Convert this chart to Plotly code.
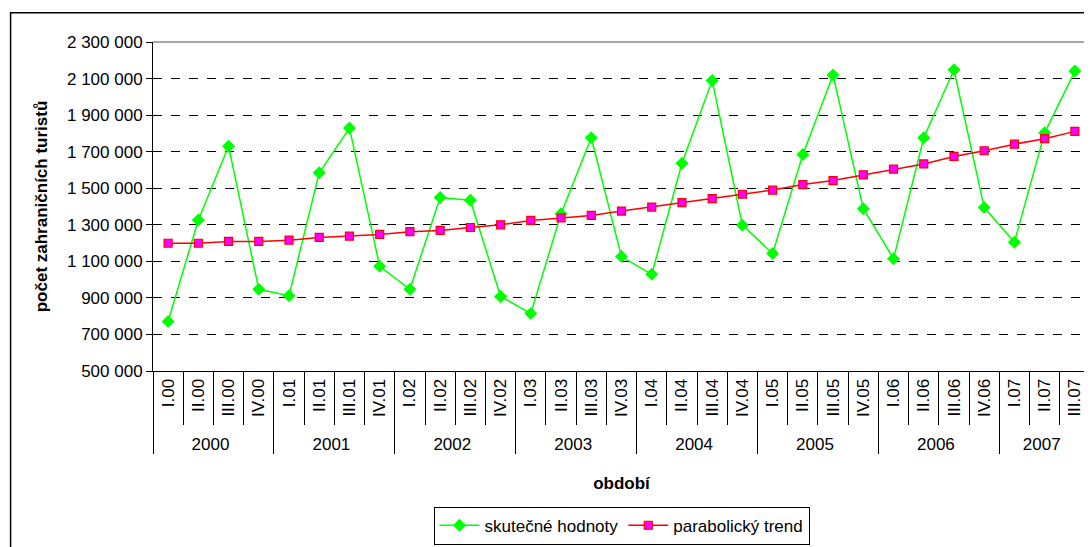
import plotly.graph_objects as go

years = ["2000"] * 4 + ["2001"] * 4 + ["2002"] * 4 + ["2003"] * 4 + ["2004"] * 4 + ["2005"] * 4 + ["2006"] * 4 + ["2007"] * 3
quarters = [
    "I.00", "II.00", "III.00", "IV.00",
    "I.01", "II.01", "III.01", "IV.01",
    "I.02", "II.02", "III.02", "IV.02",
    "I.03", "II.03", "III.03", "IV.03",
    "I.04", "II.04", "III.04", "IV.04",
    "I.05", "II.05", "III.05", "IV.05",
    "I.06", "II.06", "III.06", "IV.06",
    "I.07", "II.07", "III.07",
]
actual = [
    771000, 1326000, 1730000, 947000,
    912000, 1584000, 1829000, 1073000,
    947000, 1449000, 1434000, 908000,
    815000, 1360000, 1776000, 1126000,
    1029000, 1637000, 2089000, 1298000,
    1143000, 1685000, 2119000, 1388000,
    1114000, 1776000, 2148000, 1394000,
    1205000, 1803000, 2141000,
]
trend = [
    1199000, 1199000, 1209000, 1209000,
    1216000, 1231000, 1238000, 1247000,
    1262000, 1269000, 1285000, 1300000,
    1324000, 1337000, 1351000, 1375000,
    1397000, 1421000, 1443000, 1467000,
    1490000, 1520000, 1542000, 1573000,
    1604000, 1633000, 1674000, 1705000,
    1741000, 1771000, 1811000,
]

FONT = "Arial, Liberation Sans, sans-serif"
FS = 17
n = len(quarters)

fig = go.Figure()
fig.add_trace(go.Scatter(
    x=[years, quarters], y=actual, name="skutečné hodnoty",
    mode="lines+markers",
    line=dict(color="#00FF00", width=1.5),
    marker=dict(symbol="diamond", size=10, color="#00FF00", line=dict(width=0)),
))
fig.add_trace(go.Scatter(
    x=[years, quarters], y=trend, name="parabolický trend",
    mode="lines+markers",
    line=dict(color="#FF0000", width=1.5),
    marker=dict(symbol="square", size=8, color="#FF00FF", line=dict(color="#FF0000", width=1.2)),
))
# invisible helper trace for quarter boundary tick lines
fig.add_trace(go.Scatter(
    x=quarters, y=trend, xaxis="x2", mode="markers",
    marker=dict(opacity=0), showlegend=False, hoverinfo="skip",
))

fig.update_layout(
    width=1084, height=539,
    margin=dict(l=145, r=2, t=34, b=176),
    paper_bgcolor="white", plot_bgcolor="white",
    separators=", ",
    font=dict(family=FONT, size=FS, color="black"),
    showlegend=True,
    legend=dict(
        orientation="h", x=0.5, xanchor="center", y=-0.528, yanchor="bottom",
        bordercolor="black", borderwidth=1, font=dict(size=FS, family=FONT),
        itemwidth=40, traceorder="normal",
    ),
    xaxis=dict(
        type="multicategory", range=[-0.5, n - 0.5],
        showline=True, linecolor="black", linewidth=1,
        ticks="outside", ticklen=8, tickcolor="rgba(0,0,0,0)", tickangle=-90,
        showdividers=True, dividercolor="black", dividerwidth=1,
        tickfont=dict(size=FS, family=FONT),
        title=dict(text="<b>období</b>", font=dict(size=FS, family=FONT), standoff=24),
        showgrid=False,
    ),
    xaxis2=dict(
        type="category", overlaying="x", anchor="y", side="bottom",
        categoryorder="array", categoryarray=quarters,
        tickson="boundaries", ticks="outside", ticklen=53, tickcolor="black",
        showticklabels=False, showgrid=False, showline=False,
        range=[-0.5, n - 0.5],
    ),
    yaxis=dict(
        range=[500000, 2300000], dtick=200000, tick0=500000,
        tickformat=",.0f",
        showline=True, linecolor="black", linewidth=1,
        ticks="outside", ticklen=6, tickcolor="black",
        showgrid=True, gridcolor="black", gridwidth=1, griddash="dash",
        tickfont=dict(size=FS, family=FONT),
        title=dict(text="<b>počet zahraničních turistů</b>", font=dict(size=FS, family=FONT)),
        zeroline=False,
    ),
    shapes=[
        dict(type="line", xref="paper", yref="paper", x0=0, x1=1, y0=1, y1=1,
             line=dict(color="#888888", width=1.5), layer="above"),
        dict(type="line", xref="paper", yref="paper", x0=1, x1=1, y0=0, y1=1,
             line=dict(color="#888888", width=1.5), layer="above"),
        dict(type="rect", xref="paper", yref="paper", x0=-0.152, x1=1.05, y0=-0.7, y1=1.089,
             line=dict(color="black", width=1.5), layer="below"),
    ],
)

fig.write_html("out.html")
